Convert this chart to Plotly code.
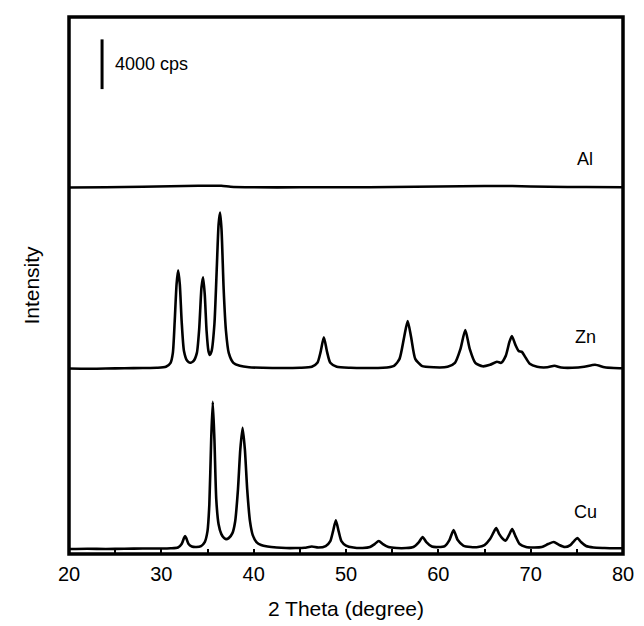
import plotly.graph_objects as go

# ---- data (2-theta in degrees, intensity in cps) ----
cu_theta = [20.0, 22.0, 24.0, 26.0, 28.0, 30.0, 31.0, 31.8, 32.2, 32.45, 32.57, 32.7, 32.95, 33.3, 33.8,
            34.3, 34.7, 35.0, 35.2, 35.4, 35.57, 35.75, 35.95, 36.2, 36.5, 36.8, 37.0, 37.3, 37.7, 38.0,
            38.3, 38.55, 38.8, 39.05, 39.3, 39.6, 39.9, 40.3, 40.8, 41.5, 42.5, 43.5, 44.5, 45.5, 46.3,
            47.0, 47.8, 48.3, 48.6, 48.9, 49.2, 49.5, 50.0, 50.8, 51.8, 52.6, 53.1, 53.55, 54.0, 54.6,
            55.5, 56.5, 57.3, 57.9, 58.3, 58.7, 59.3, 60.0, 60.7, 61.2, 61.65, 62.1, 62.7, 63.5, 64.3,
            65.0, 65.6, 66.0, 66.27, 66.6, 67.0, 67.3, 67.65, 68.0, 68.35, 68.8, 69.5, 70.3, 71.2, 71.9,
            72.5, 73.1, 73.7, 74.3, 74.7, 75.06, 75.45, 76.0, 76.8, 78.0, 79.0, 80.0]
cu_cps = [400, 420, 400, 420, 440, 440, 460, 520, 800, 1280, 1440, 1280, 800, 600, 560,
          640, 960, 1840, 4000, 9200, 12240, 9200, 4400, 2400, 1600, 1280, 1200, 1280, 1680, 2640,
          5200, 8400, 10160, 8400, 5200, 2640, 1520, 960, 720, 600, 520, 480, 480, 500, 600,
          520, 640, 1040, 1840, 2720, 1840, 1040, 680, 520, 480, 560, 800, 1040, 800, 560,
          480, 480, 560, 960, 1360, 960, 600, 560, 640, 1120, 1920, 1120, 680, 560, 560,
          720, 1200, 1760, 2080, 1600, 1200, 1080, 1520, 2000, 1440, 800, 560, 520, 560, 800,
          960, 720, 560, 720, 1040, 1280, 960, 640, 520, 480, 460, 460]

zn_theta = [20.0, 22.0, 24.0, 26.0, 28.0, 29.5, 30.5, 31.0, 31.25, 31.45, 31.65, 31.82, 32.0, 32.2, 32.45,
            32.8, 33.1, 33.5, 33.85, 34.1, 34.35, 34.52, 34.7, 34.9, 35.1, 35.25, 35.45, 35.75, 36.0, 36.2,
            36.36, 36.52, 36.75, 37.0, 37.3, 37.8, 38.5, 39.5, 41.0, 43.0, 45.0, 46.3, 46.9, 47.25, 47.6,
            47.95, 48.3, 49.0, 50.5, 52.0, 54.0, 55.2, 55.8, 56.3, 56.68, 57.05, 57.5, 58.2, 59.5, 61.0,
            61.8, 62.4, 62.92, 63.4, 64.0, 64.8, 65.6, 66.35, 66.8, 67.3, 67.7, 67.97, 68.35, 68.7, 69.05,
            69.4, 69.9, 70.7, 71.8, 72.57, 73.3, 74.5, 75.8, 76.97, 78.0, 79.0, 80.0]
zn_cps = [420, 400, 420, 440, 460, 480, 560, 880, 1680, 4240, 7200, 8320, 7200, 4240, 1840,
          1040, 880, 1040, 1680, 3600, 6960, 7760, 6400, 3440, 1840, 1520, 1840, 4000, 8400, 12000,
          12960, 11600, 6800, 3440, 1680, 880, 640, 520, 480, 460, 480, 560, 880, 1760, 2940,
          1760, 880, 560, 480, 460, 480, 640, 1200, 2960, 4240, 2960, 1200, 640, 520, 560,
          880, 2000, 3520, 2000, 880, 600, 720, 960, 880, 1440, 2560, 3040, 2320, 1840, 1760,
          1360, 800, 560, 520, 640, 500, 480, 560, 720, 520, 460, 440]

al_theta = [20.0, 24.0, 28.0, 31.0, 34.0, 36.5, 37.5, 40.0, 45.0, 50.0, 55.0, 60.0, 65.0, 68.0, 72.0, 76.0, 80.0]
al_cps = [380, 400, 440, 480, 520, 520, 440, 400, 400, 400, 420, 460, 500, 500, 440, 420, 400]

sample_names = ["Cu", "Zn", "Al"]
stack_offsets = [0, 14500, 29100]          # vertical offsets used to stack the patterns
label_y = [3400, 17480, 31800]              # where each sample label sits (cps, stacked)
label_theta = 75.9

scale_bar_cps = 4000
scale_bar_theta = 23.58
scale_bar_base = 37400

x_ticks = [20, 30, 40, 50, 60, 70, 80]

series = [(cu_theta, cu_cps), (zn_theta, zn_cps), (al_theta, al_cps)]

fig = go.Figure()
for (th, cps), off in zip(series, stack_offsets):
    fig.add_trace(go.Scatter(
        x=th, y=[v + off for v in cps], mode="lines",
        line=dict(color="black", width=2.6, shape="spline", smoothing=0.6),
        showlegend=False, hoverinfo="skip"))

# scale bar
fig.add_trace(go.Scatter(
    x=[scale_bar_theta, scale_bar_theta],
    y=[scale_bar_base, scale_bar_base + scale_bar_cps],
    mode="lines", line=dict(color="black", width=3), showlegend=False, hoverinfo="skip"))

font_family = "Liberation Sans, Arial, sans-serif"
annotations = [dict(x=scale_bar_theta + 1.2, y=scale_bar_base + scale_bar_cps / 2,
                    text=f"{scale_bar_cps} cps", showarrow=False, xanchor="left", yanchor="middle",
                    font=dict(size=18, color="black", family=font_family))]
for name, yv in zip(sample_names, label_y):
    annotations.append(dict(x=label_theta, y=yv, text=name, showarrow=False,
                            xanchor="center", yanchor="middle",
                            font=dict(size=18, color="black", family=font_family)))

fig.update_layout(
    width=636, height=618,
    margin=dict(l=61, r=21, t=9, b=69),
    paper_bgcolor="white", plot_bgcolor="white",
    font=dict(family=font_family, color="black"),
    annotations=annotations,
    shapes=[dict(type="rect", xref="paper", yref="paper", x0=0, y0=0, x1=1, y1=1,
                 line=dict(color="black", width=3.5), layer="above")],
)
fig.update_xaxes(
    range=[20, 80], tickvals=x_ticks, ticktext=[str(t) for t in x_ticks],
    ticks="inside", ticklen=5, tickwidth=2, tickcolor="black", ticklabelstandoff=6,
    minor=dict(dtick=5, tick0=20, ticks="inside", ticklen=5, tickwidth=2, tickcolor="black", showgrid=False),
    showgrid=False, zeroline=False, showline=False,
    tickfont=dict(size=20, family=font_family, color="black"),
    title=dict(text="2 Theta (degree)", font=dict(size=21, family=font_family, color="black"), standoff=17),
)
fig.update_yaxes(
    range=[0, 43200], showticklabels=False, ticks="", showgrid=False, zeroline=False, showline=False,
    title=dict(text="Intensity", font=dict(size=21, family=font_family, color="black"), standoff=22),
)

fig.write_html("out.html")
